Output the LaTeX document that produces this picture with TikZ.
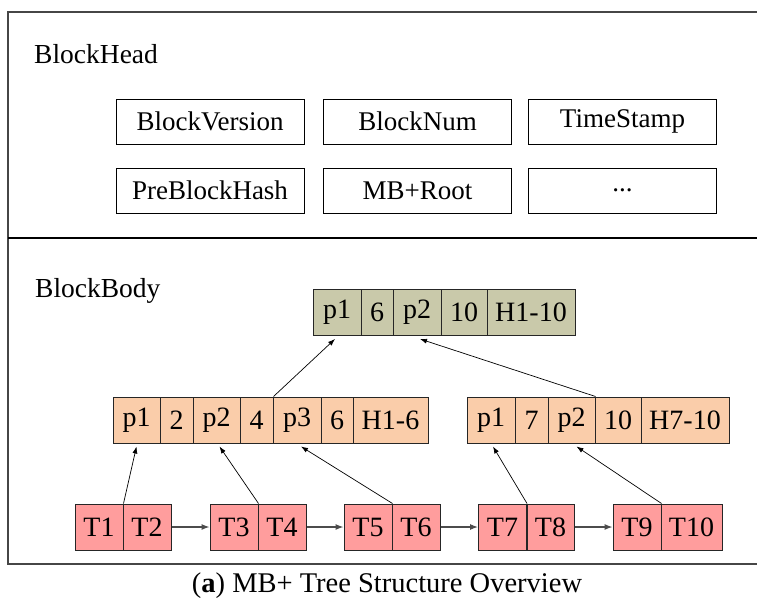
\documentclass[tikz,border=0pt]{standalone}
\usepackage{fontspec}
\setmainfont{Liberation Serif}
\usetikzlibrary{arrows.meta}
\definecolor{rootc}{RGB}{201,201,170}
\definecolor{midc}{RGB}{250,205,170}
\definecolor{leafc}{RGB}{255,157,157}
\definecolor{framec}{RGB}{70,70,70}
\tikzset{
  txt/.style={inner sep=0pt, font=\fontsize{27.5}{32}\selectfont},
  captxt/.style={inner sep=0pt, font=\fontsize{28.5}{33}\selectfont},
  headbox/.style={draw=black, line width=0.9pt, minimum width=188pt, minimum height=45pt, inner sep=0pt, font=\fontsize{27}{32}\selectfont},
  cell/.style={draw=black!85, line width=1pt, minimum height=46pt, inner sep=0pt, font=\fontsize{28}{32}\selectfont},
  rootcell/.style={cell, fill=rootc},
  midcell/.style={cell, fill=midc},
  leafcell/.style={cell, fill=leafc, minimum width=48pt},
  treearrow/.style={line width=0.7pt, -{Latex[length=7pt,width=5pt]}},
  leafarrow/.style={line width=1.1pt, draw=black!70, -{Latex[length=8pt,width=6pt]}},
}
\begin{document}
\begin{tikzpicture}[x=1pt,y=-1pt]
\useasboundingbox (0,0) rectangle (757,599);
% frame
\draw[framec, line width=1.1pt] (757,12) -- (8,12) -- (8,564) -- (757,564);
\draw[black, line width=2pt] (8,238) -- (757,238);
% labels
\node[txt, anchor=base west] (bh) at (34,64) {BlockHead};
\node[txt, anchor=base west] (bb) at (35,297) {BlockBody};
% head boxes
\node[headbox] (hv) at (210,121.5) {BlockVersion};
\node[headbox] (hn) at (417.5,121.5) {BlockNum};
\node[headbox] (ht) at (622.5,121.5) {TimeStamp};
\node[headbox] (hp) at (210,190.5) {PreBlockHash};
\node[headbox] (hm) at (417.5,190.5) {MB+Root};
\node[headbox] (hd) at (622.5,190.5) {...};
% root node
\node[rootcell, minimum width=48pt] (R1) at (337,312.5) {p1};
\node[rootcell, minimum width=32pt] (R2) at (377,312.5) {6};
\node[rootcell, minimum width=48pt] (R3) at (417,312.5) {p2};
\node[rootcell, minimum width=46pt] (R4) at (464,312.5) {10};
\node[rootcell, minimum width=88pt] (R5) at (531,312.5) {H1-10};
% left internal node
\node[midcell, minimum width=47pt] (L1) at (136.5,420) {p1};
\node[midcell, minimum width=33pt] (L2) at (176.5,420) {2};
\node[midcell, minimum width=47pt] (L3) at (216.5,420) {p2};
\node[midcell, minimum width=33pt] (L4) at (256.5,420) {4};
\node[midcell, minimum width=48pt] (L5) at (297,420) {p3};
\node[midcell, minimum width=32pt] (L6) at (337,420) {6};
\node[midcell, minimum width=75pt] (L7) at (390.5,420) {H1-6};
% right internal node
\node[midcell, minimum width=48pt] (M1) at (491,420) {p1};
\node[midcell, minimum width=33pt] (M2) at (531.5,420) {7};
\node[midcell, minimum width=47pt] (M3) at (571.5,420) {p2};
\node[midcell, minimum width=46pt] (M4) at (618,420) {10};
\node[midcell, minimum width=88pt] (M5) at (685,420) {H7-10};
% leaves
\node[leafcell] (T1) at (99,527) {T1};
\node[leafcell] (T2) at (147,527) {T2};
\node[leafcell] (T3) at (234,527) {T3};
\node[leafcell] (T4) at (282,527) {T4};
\node[leafcell] (T5) at (368,527) {T5};
\node[leafcell] (T6) at (416,527) {T6};
\node[leafcell] (T7) at (502.5,527) {T7};
\node[leafcell, minimum width=47pt] (T8) at (550.5,527) {T8};
\node[leafcell] (T9) at (637,527) {T9};
\node[leafcell, minimum width=61pt] (T10) at (691.5,527) {T10};
% leaf links
\draw[leafarrow] (T2.east) -- (T3.west);
\draw[leafarrow] (T4.east) -- (T5.west);
\draw[leafarrow] (T6.east) -- (T7.west);
\draw[leafarrow] (T8.east) -- (T9.west);
% tree arrows
\draw[treearrow] (T1.north east) -- ([yshift=-3pt]L1.south);
\draw[treearrow] (T3.north east) -- ([xshift=3pt,yshift=-3pt]L3.south);
\draw[treearrow] (T5.north east) -- ([xshift=4pt,yshift=-3pt]L5.south);
\draw[treearrow] (T7.north east) -- ([xshift=2pt,yshift=-3pt]M1.south);
\draw[treearrow] (T9.north east) -- ([xshift=5pt,yshift=-3pt]M3.south);
\draw[treearrow] (L4.north east) -- ([xshift=-2pt,yshift=-3pt]R1.south);
\draw[treearrow] (M3.north east) -- ([xshift=3pt,yshift=-3pt]R3.south);
% caption
\node[captxt, anchor=base] (cap) at (387,592) {(\textbf{a}) MB+ Tree Structure Overview};
\end{tikzpicture}
\end{document}
